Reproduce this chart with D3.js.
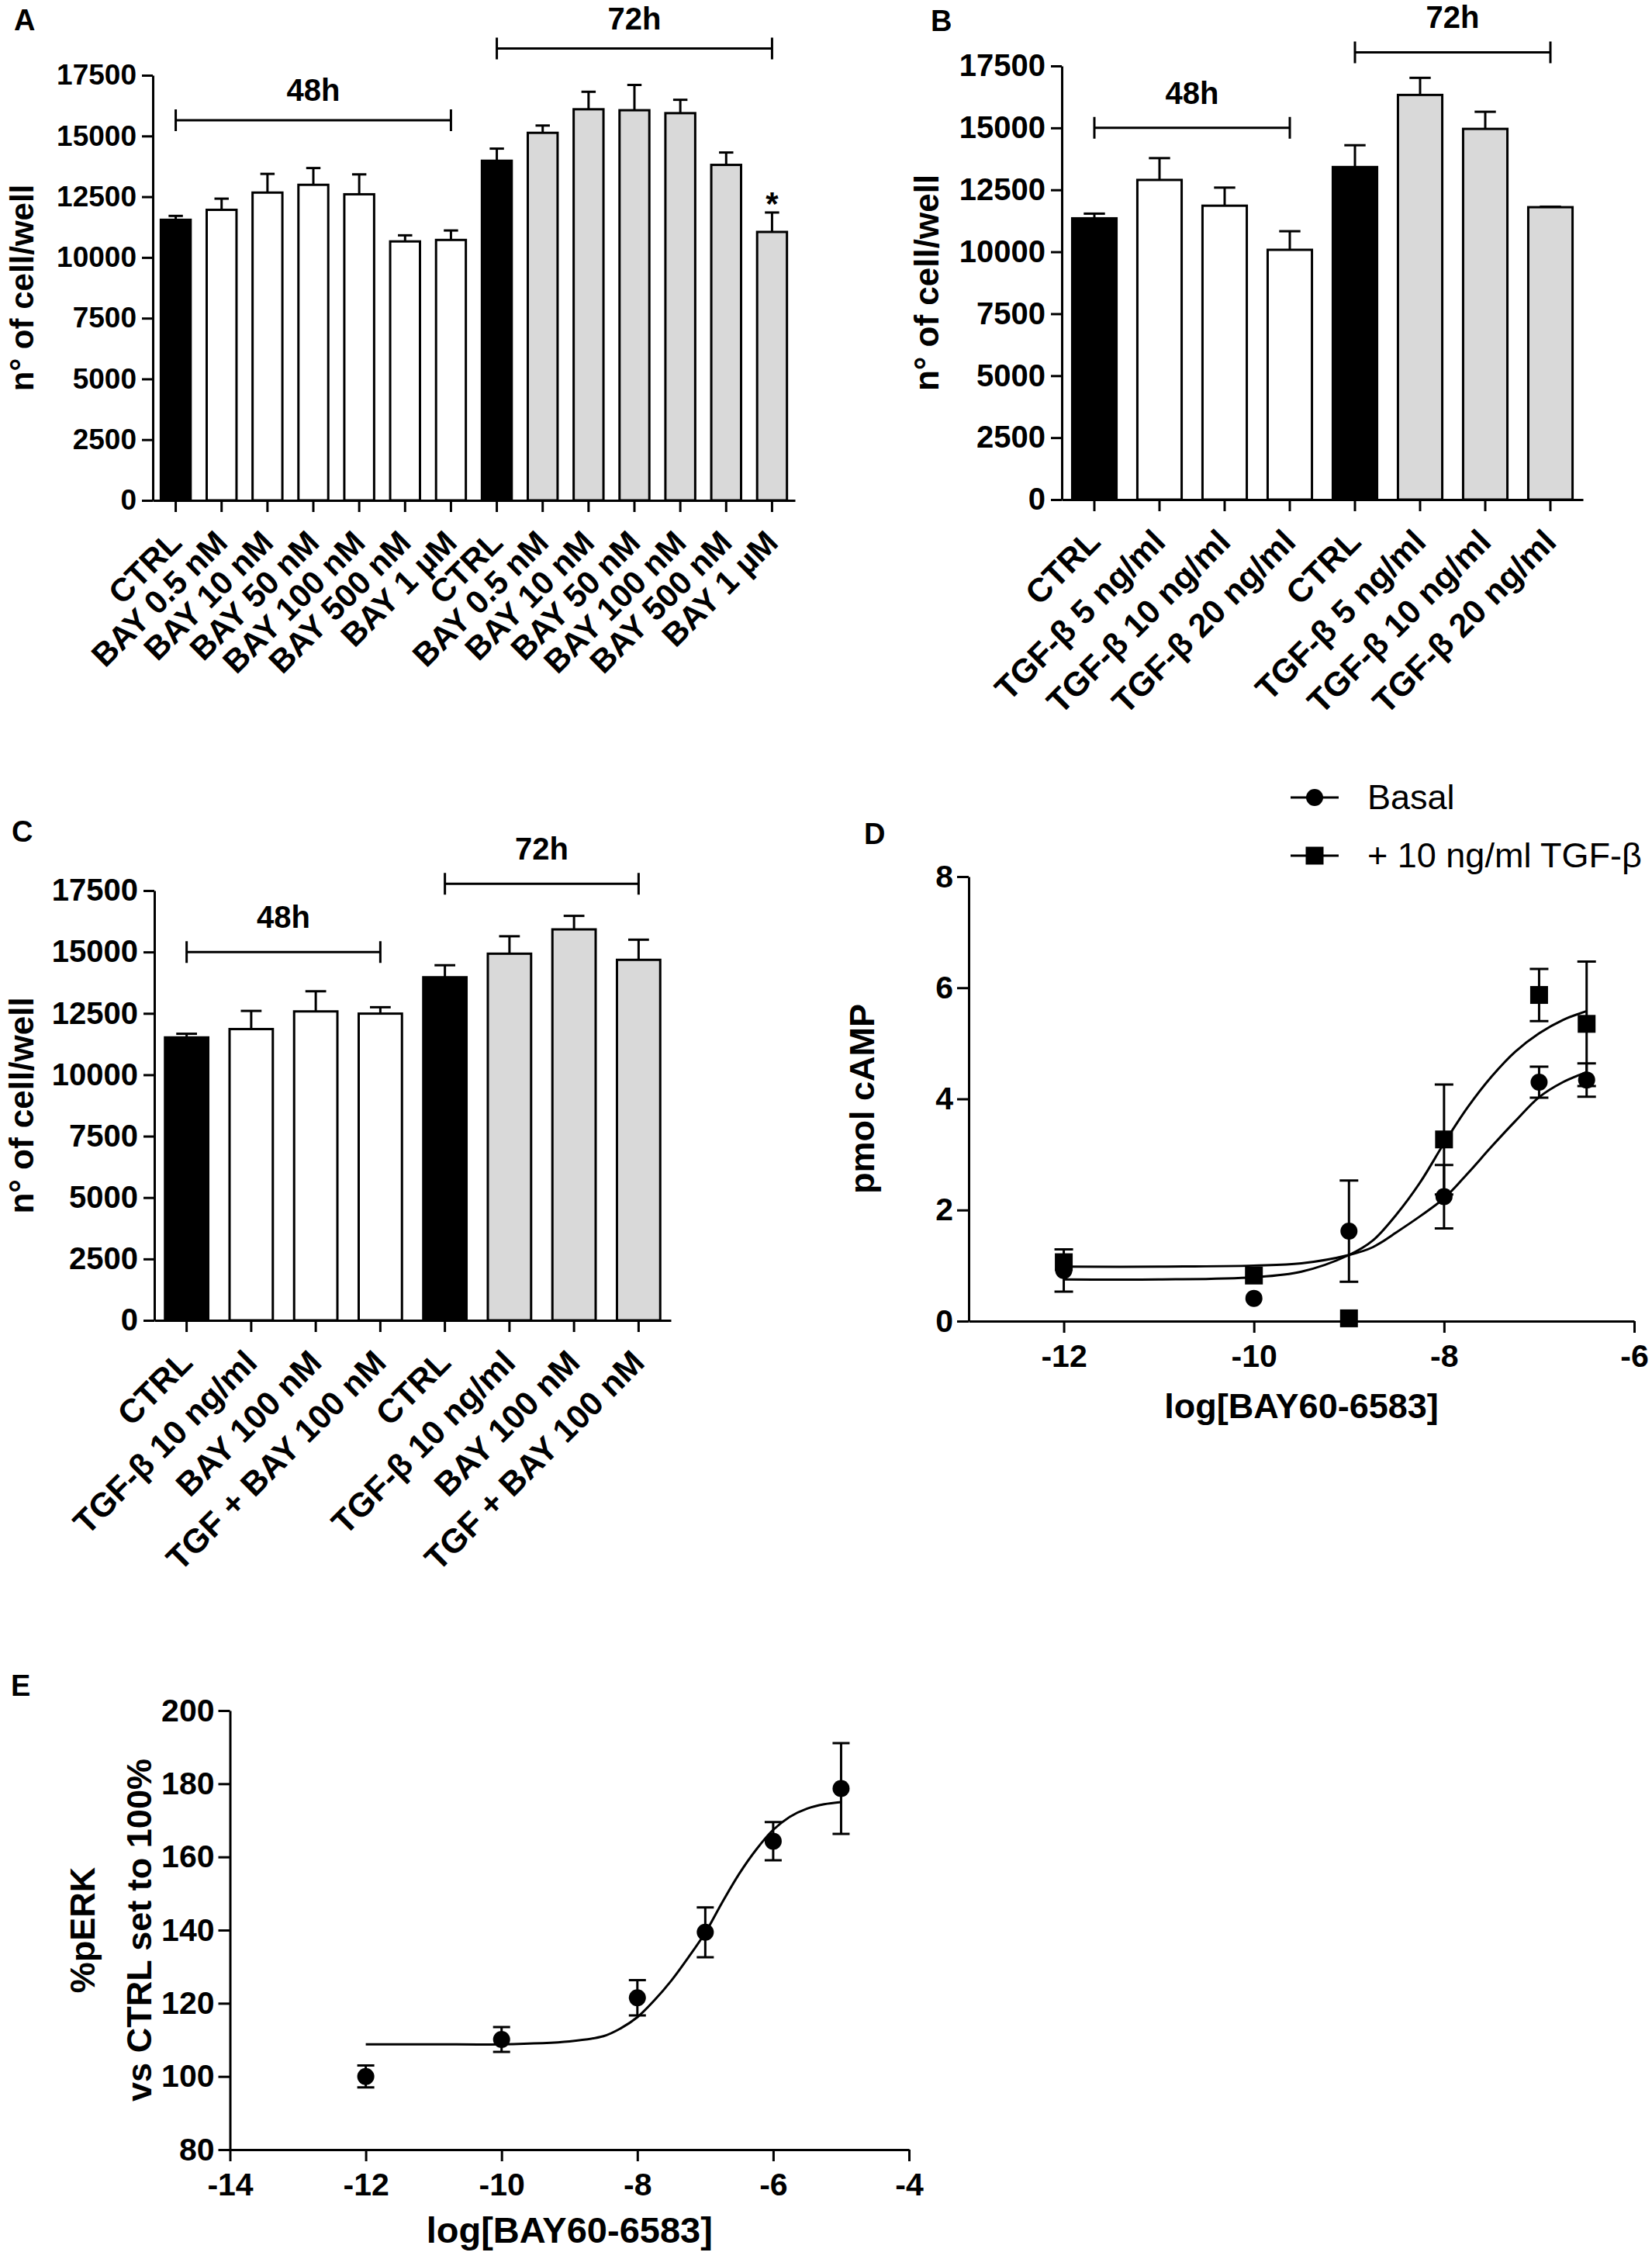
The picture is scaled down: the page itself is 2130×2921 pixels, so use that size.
<!DOCTYPE html>
<html>
<head>
<meta charset="utf-8">
<script src="https://cdn.jsdelivr.net/npm/d3@7"></script>
<style>
body { margin: 0; background: #fff; }
svg { display: block; }
</style>
</head>
<body>
<svg id="fig" width="2130" height="2921"></svg>
<script>
var sans = '"Liberation Sans", Arial, Helvetica, sans-serif';

// ---- A : BAY dose response, cell count ----
var labelsA = ["CTRL","BAY 0.5 nM","BAY 10 nM","BAY 50 nM","BAY 100 nM","BAY 500 nM","BAY 1 µM",
               "CTRL","BAY 0.5 nM","BAY 10 nM","BAY 50 nM","BAY 100 nM","BAY 500 nM","BAY 1 µM"];
var timesA = ["48h","48h","48h","48h","48h","48h","48h","72h","72h","72h","72h","72h","72h","72h"];
var meanA = [11550,11960,12670,12990,12600,10660,10720, 13980,15130,16100,16060,15940,13810,11050];
var semA  = [160,460,770,690,820,250,390, 500,300,720,1040,550,510,800];
var bracketsA = [{label:"48h", from:0, to:6, level:15650}, {label:"72h", from:7, to:13, level:18600}];
var starsA = [{i:13, text:"*"}];

// ---- B : TGF-β, cell count ----
var labelsB = ["CTRL","TGF-β 5 ng/ml","TGF-β 10 ng/ml","TGF-β 20 ng/ml",
               "CTRL","TGF-β 5 ng/ml","TGF-β 10 ng/ml","TGF-β 20 ng/ml"];
var timesB = ["48h","48h","48h","48h","72h","72h","72h","72h"];
var meanB = [11350,12900,11860,10080, 13420,16330,14960,11800];
var semB  = [190,880,730,750, 880,690,690,20];
var bracketsB = [{label:"48h", from:0, to:3, level:15000}, {label:"72h", from:4, to:7, level:18050}];

// ---- C : TGF-β + BAY, cell count ----
var labelsC = ["CTRL","TGF-β 10 ng/ml","BAY 100 nM","TGF + BAY 100 nM",
               "CTRL","TGF-β 10 ng/ml","BAY 100 nM","TGF + BAY 100 nM"];
var timesC = ["48h","48h","48h","48h","72h","72h","72h","72h"];
var meanC = [11520,11860,12580,12490, 13970,14930,15920,14680];
var semC  = [150,740,820,260, 490,710,550,820];
var bracketsC = [{label:"48h", from:0, to:3, level:15000}, {label:"72h", from:4, to:7, level:17780}];

var yTicksCells = [0,2500,5000,7500,10000,12500,15000,17500];

// ---- D : cAMP ----
var logD = [-12,-10,-9,-8,-7,-6.5];
var basalD = [0.91,0.41,1.62,2.24,4.30,4.34];
var basalSemD = [0.38,0,0.91,0.57,0.28,0.30];
var tgfD = [1.06,0.82,0.05,3.27,5.87,5.35];
var tgfSemD = [0,0,0,0.99,0.47,1.12];
// fitted curves
var fitLogD = [-12,-11,-10,-9.5,-9,-8.75,-8.5,-8.25,-8,-7.75,-7.5,-7.25,-7,-6.75,-6.5];
var basalFitD = [0.98,0.98,1.0,1.04,1.19,1.33,1.6,1.89,2.21,2.66,3.14,3.6,4.03,4.3,4.48];
var tgfFitD = [0.75,0.75,0.79,0.89,1.19,1.45,1.92,2.5,3.2,3.85,4.4,4.85,5.18,5.42,5.58];
var xTicksD = [-12,-10,-8,-6];
var yTicksD = [0,2,4,6,8];

// ---- E : pERK ----
var logE = [-12,-10,-8,-7,-6,-5];
var meanE = [100,110.1,121.5,139.4,164.3,178.7];
var semE = [3,3.4,4.8,6.8,5.2,12.4];
var fitLogE = [-12,-11,-10,-9,-8.5,-8.25,-8,-7.75,-7.5,-7.25,-7,-6.75,-6.5,-6.25,-6,-5.75,-5.5,-5.25,-5];
var fitE = [108.8,108.8,108.8,109.6,111.0,113.1,116.2,120.8,126.2,132.5,139.3,147.6,155.4,162.0,167.4,171.0,173.2,174.4,175.0];
var xTicksE = [-14,-12,-10,-8,-6,-4];
var yTicksE = [80,100,120,140,160,180,200];

var svg = d3.select("#fig");
svg.append("rect").attr("width",2130).attr("height",2921).attr("fill","#fff");

function styleAxis(a, fs) {
  a.selectAll("path,line").attr("stroke","#000").attr("stroke-width",3);
  a.selectAll("text").attr("font-size",fs).attr("font-weight","bold")
   .attr("font-family",sans).attr("fill","#000");
}

function label(x, y, txt, fs, opts) {
  opts = opts || {};
  return svg.append("text")
    .attr("transform","translate(" + x + "," + y + ")" + (opts.rot ? " rotate(" + opts.rot + ")" : ""))
    .attr("text-anchor", opts.anchor || "start")
    .attr("font-family",sans).attr("font-size",fs)
    .attr("font-weight", opts.weight || "bold")
    .text(txt);
}

function barPanel(p) {
  var g = svg.append("g");
  var rows = p.labels.map(function(l,i){ return {i:i, label:l, time:p.times[i], mean:p.means[i], sem:p.sems[i]}; });
  var x = d3.scaleBand().domain(rows.map(function(d){return d.i;}))
      .range([p.x0,p.x1]).paddingInner(p.pad).paddingOuter(p.pad/2);
  var y = d3.scaleLinear().domain([0,17500]).range([p.y0,p.y1]);
  var bw = x.bandwidth();
  var cx = function(i){ return x(i) + bw/2; };

  // error bars first, bars over them
  g.selectAll(".err").data(rows).join("line")
    .attr("x1",function(d){return cx(d.i);}).attr("x2",function(d){return cx(d.i);})
    .attr("y1",function(d){return y(d.mean);}).attr("y2",function(d){return y(d.mean+d.sem);})
    .attr("stroke","#000").attr("stroke-width",3);
  g.selectAll(".cap").data(rows).join("line")
    .attr("x1",function(d){return cx(d.i)-bw*0.24;}).attr("x2",function(d){return cx(d.i)+bw*0.24;})
    .attr("y1",function(d){return y(d.mean+d.sem);}).attr("y2",function(d){return y(d.mean+d.sem);})
    .attr("stroke","#000").attr("stroke-width",3);

  g.selectAll(".bar").data(rows).join("rect")
    .attr("x",function(d){return x(d.i);}).attr("width",bw)
    .attr("y",function(d){return y(d.mean);})
    .attr("height",function(d){return y(0)-y(d.mean);})
    .attr("fill",function(d){ return d.label === "CTRL" ? "#000" : (d.time === "72h" ? "#d9d9d9" : "#fff"); })
    .attr("stroke","#000").attr("stroke-width",3);

  g.append("g").attr("transform","translate(" + p.x0 + ",0)")
    .call(d3.axisLeft(y).tickValues(yTicksCells).tickFormat(d3.format("d"))
      .tickSize(14).tickSizeOuter(0).tickPadding(7))
    .call(styleAxis, p.tickFont);
  g.append("g").attr("transform","translate(0," + p.y0 + ")")
    .call(d3.axisBottom(x).tickSize(15).tickSizeOuter(0).tickFormat(""))
    .call(styleAxis, p.tickFont);

  g.selectAll(".cat").data(rows).join("text")
    .attr("transform",function(d){ return "translate(" + (cx(d.i)+10) + "," + (p.y0+57) + ") rotate(-45)"; })
    .attr("text-anchor","end").attr("font-family",sans)
    .attr("font-size",p.catFont).attr("font-weight","bold")
    .text(function(d){return d.label;});

  p.brackets.forEach(function(b){
    var xa = cx(b.from), xb = cx(b.to), yb = y(b.level);
    g.append("path").attr("d","M"+xa+","+(yb-14)+"V"+(yb+14)+"M"+xa+","+yb+"H"+xb+"M"+xb+","+(yb-14)+"V"+(yb+14))
      .attr("fill","none").attr("stroke","#000").attr("stroke-width",3);
    g.append("text").attr("x",(xa+xb)/2).attr("y",yb-p.bracketGap)
      .attr("text-anchor","middle").attr("font-family",sans)
      .attr("font-size",40).attr("font-weight","bold").text(b.label);
  });

  (p.stars || []).forEach(function(s){
    var d = rows[s.i];
    g.append("text").attr("x",cx(s.i)).attr("y",y(d.mean+d.sem)+3)
      .attr("text-anchor","middle").attr("font-family",sans)
      .attr("font-size",42).attr("font-weight","bold").text(s.text);
  });

  label(p.titleX, (p.y0+p.y1)/2, "n° of cell/well", p.titleFont, {rot:-90, anchor:"middle"});
}

barPanel({labels:labelsA, times:timesA, means:meanA, sems:semA, brackets:bracketsA, stars:starsA,
  x0:197, x1:1025, y0:645, y1:97, pad:0.35, tickFont:37, catFont:42, titleFont:42, titleX:43, bracketGap:25});
barPanel({labels:labelsB, times:timesB, means:meanB, sems:semB, brackets:bracketsB,
  x0:1369, x1:2041, y0:644, y1:85, pad:0.32, tickFont:40, catFont:43, titleFont:44, titleX:1210, bracketGap:31});
barPanel({labels:labelsC, times:timesC, means:meanC, sems:semC, brackets:bracketsC,
  x0:199, x1:865, y0:1702, y1:1148, pad:0.33, tickFont:40, catFont:43, titleFont:44, titleX:43, bracketGap:31});

function xyPanel(p) {
  var g = svg.append("g");
  var x = d3.scaleLinear().domain(p.xDomain).range([p.x0,p.x1]);
  var y = d3.scaleLinear().domain(p.yDomain).range([p.y0,p.y1]);

  g.append("g").attr("transform","translate(" + p.x0 + ",0)")
    .call(d3.axisLeft(y).tickValues(p.yTicks).tickSize(15).tickSizeOuter(0).tickPadding(5)
      .tickFormat(function(d){return String(d);}))
    .call(styleAxis, 41);
  g.append("g").attr("transform","translate(0," + p.y0 + ")")
    .call(d3.axisBottom(x).tickValues(p.xTicks).tickSize(15).tickSizeOuter(0).tickPadding(15)
      .tickFormat(function(d){return String(d);}))
    .call(styleAxis, 41);

  var line = d3.line().x(function(d){return x(d[0]);}).y(function(d){return y(d[1]);})
      .curve(d3.curveCatmullRom.alpha(0.5));

  p.series.forEach(function(s){
    var pts = s.x.map(function(v,i){ return {x:v, m:s.mean[i], e:s.sem[i]}; });
    g.append("path").datum(d3.zip(s.fitX, s.fitY)).attr("d",line)
      .attr("fill","none").attr("stroke","#000").attr("stroke-width",3);
    var eb = pts.filter(function(d){return d.e > 0;});
    g.selectAll(null).data(eb).join("path")
      .attr("d",function(d){
        var px = x(d.x), ya = y(d.m+d.e), yb = y(d.m-d.e), c = p.cap/2;
        return "M"+px+","+ya+"V"+yb+"M"+(px-c)+","+ya+"H"+(px+c)+"M"+(px-c)+","+yb+"H"+(px+c);
      })
      .attr("fill","none").attr("stroke","#000").attr("stroke-width",3);
    if (s.shape === "square") {
      g.selectAll(null).data(pts).join("rect")
        .attr("x",function(d){return x(d.x)-11.5;}).attr("y",function(d){return y(d.m)-11.5;})
        .attr("width",23).attr("height",23).attr("fill","#000");
    } else {
      g.selectAll(null).data(pts).join("circle")
        .attr("cx",function(d){return x(d.x);}).attr("cy",function(d){return y(d.m);})
        .attr("r",11).attr("fill","#000");
    }
  });

  label((p.x0+p.x1)/2, p.xTitleY, "log[BAY60-6583]", p.xTitleFont, {anchor:"middle"});
  p.yTitle.forEach(function(t,i){
    label(p.yTitleX[i], (p.y0+p.y1)/2, t, 45, {rot:-90, anchor:"middle"});
  });
}

xyPanel({xDomain:[-13,-6], yDomain:[0,8], x0:1249, x1:2107, y0:1703, y1:1130,
  xTicks:xTicksD, yTicks:yTicksD, cap:24, xTitleY:1828, xTitleFont:45,
  yTitle:["pmol cAMP"], yTitleX:[1127],
  series:[
    {shape:"circle", x:logD, mean:basalD, sem:basalSemD, fitX:fitLogD, fitY:basalFitD},
    {shape:"square", x:logD, mean:tgfD, sem:tgfSemD, fitX:fitLogD, fitY:tgfFitD}
  ]});

xyPanel({xDomain:[-14,-4], yDomain:[80,200], x0:296.5, x1:1172, y0:2771, y1:2205,
  xTicks:xTicksE, yTicks:yTicksE, cap:22, xTitleY:2891, xTitleFont:47,
  yTitle:["%pERK","vs CTRL set to 100%"], yTitleX:[122,195],
  series:[
    {shape:"circle", x:logE, mean:meanE, sem:semE, fitX:fitLogE, fitY:fitE}
  ]});

// legend of D
var legendD = [{name:"Basal", shape:"circle"}, {name:"+ 10 ng/ml TGF-β", shape:"square"}];
legendD.forEach(function(d,i){
  var cy = 1028 + i*75;
  svg.append("line").attr("x1",1664).attr("x2",1726).attr("y1",cy).attr("y2",cy)
    .attr("stroke","#000").attr("stroke-width",3);
  if (d.shape === "square") {
    svg.append("rect").attr("x",1695-11.5).attr("y",cy-11.5).attr("width",23).attr("height",23).attr("fill","#000");
  } else {
    svg.append("circle").attr("cx",1695).attr("cy",cy).attr("r",11).attr("fill","#000");
  }
  label(1763, cy+15, d.name, 45, {weight:"normal"});
});

// panel letters
[["A",18,39],["B",1200,40],["C",15,1085],["D",1114,1088],["E",14,2186]].forEach(function(l){
  label(l[1], l[2], l[0], 38);
});
</script>
</body>
</html>
